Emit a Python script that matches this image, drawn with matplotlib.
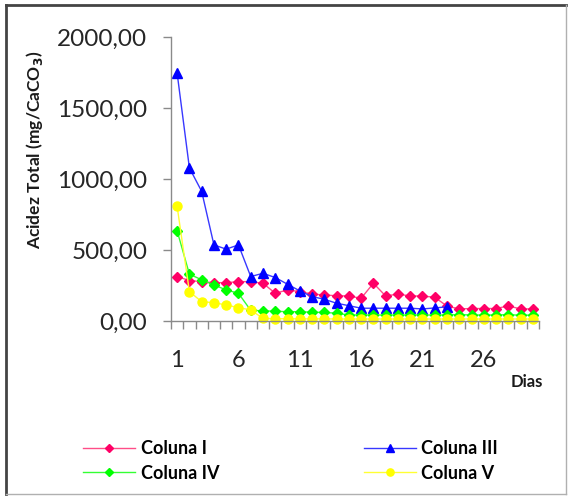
import matplotlib.pyplot as plt
from matplotlib.lines import Line2D

plt.rcParams['font.family'] = ['Lato', 'DejaVu Sans']

dias = list(range(1, 31))
coluna_i = [313, 285, 277, 270, 270, 277, 277, 266, 195, 219, 207, 190, 183, 178, 176,
            160, 266, 176, 190, 176, 176, 167, 105, 85, 88, 88, 88, 106, 85, 85]
coluna_iii = [1745, 1078, 913, 536, 506, 536, 313, 336, 306, 259, 212, 172, 153, 125, 108,
              90, 90, 90, 90, 90, 85, 92, 100]
coluna_iv = [635, 330, 290, 254, 219, 195, 75, 72, 68, 66, 65, 62, 60, 55, 42,
             42, 42, 42, 42, 42, 42, 42, 42, 45, 42, 42, 42, 45, 40, 42]
coluna_v = [807, 207, 136, 129, 113, 94, 78, 18, 16, 16, 15, 15, 15, 14, 14,
            14, 14, 14, 14, 14, 14, 14, 14, 14, 14, 14, 14, 14, 14, 14]

series = [
    ("Coluna I", coluna_i, "#FF0066", "#FF4D88", "D", 5.5),
    ("Coluna III", coluna_iii, "#0000FF", "#3838FF", "^", 7),
    ("Coluna IV", coluna_iv, "#00FF00", "#33FF33", "D", 5.5),
    ("Coluna V", coluna_v, "#FFFF00", "#FFFF33", "o", 6.5),
]

fig = plt.figure(figsize=(5.71, 4.97), dpi=100)
ax = fig.add_axes([171 / 571, 1 - 321 / 497, 368 / 571, 284 / 497])

handles = {}
for name, vals, mcol, lcol, mk, ms in series:
    x = dias[:len(vals)]
    ln, = ax.plot(x, vals, color=lcol, lw=1.0, marker=mk, markersize=ms,
                  markerfacecolor=mcol, markeredgecolor=mcol, label=name, clip_on=False)
    handles[name] = ln

ax.set_xlim(0.5, 30.5)
ax.set_ylim(0, 2000)
ax.set_yticks([0, 500, 1000, 1500, 2000])
ax.set_yticklabels(["0,00", "500,00", "1000,00", "1500,00", "2000,00"])
ax.set_xticks([1, 6, 11, 16, 21, 26])
ax.set_xticklabels(["1", "6", "11", "16", "21", "26"])
ax.set_xticks([d + 0.5 for d in range(0, 31)], minor=True)

for side in ["top", "right"]:
    ax.spines[side].set_visible(False)
for side in ["left", "bottom"]:
    ax.spines[side].set_color("#8a8a8a")
    ax.spines[side].set_linewidth(1.0)

ax.tick_params(axis="y", direction="out", length=6, width=1, color="#8a8a8a",
               labelsize=17.5, labelcolor="#262626", pad=11)
ax.tick_params(axis="x", which="major", length=0, labelsize=17, labelcolor="#262626", pad=21)
ax.tick_params(axis="x", which="minor", direction="out", length=6, width=1, color="#8a8a8a")

fig.text(527 / 571, 1 - 382 / 497, "Dias", fontsize=12, fontweight="bold",
         color="#1a1a1a", ha="center", va="center")
fig.text(35 / 571, 1 - 150 / 497, r"Acidez Total (mg/CaCO$_\mathbf{3}$)", fontsize=12.5,
         fontweight="bold", color="#1a1a1a", rotation=90, ha="center", va="center")

order = ["Coluna I", "Coluna IV", "Coluna III", "Coluna V"]
fig.legend([handles[n] for n in order], order, ncol=2, frameon=False,
           loc="center left", bbox_to_anchor=(83 / 571, 1 - 461 / 497),
           borderpad=0, borderaxespad=0, handlelength=2.9, handletextpad=0.3,
           columnspacing=8.0, labelspacing=0.39, prop={"size": 13, "weight": "bold"},
           markerscale=0.8)

# outer frame around the chart area
fig.add_artist(Line2D([6 / 571, 6 / 571], [1 - 494 / 497, 1 - 5 / 497], color="#444444", lw=2))
fig.add_artist(Line2D([6 / 571, 566 / 571], [1 - 5 / 497, 1 - 5 / 497], color="#444444", lw=2))
fig.add_artist(Line2D([566 / 571, 566 / 571], [1 - 494 / 497, 1 - 5 / 497], color="#b0b0b0", lw=1))
fig.add_artist(Line2D([6 / 571, 566 / 571], [1 - 494 / 497, 1 - 494 / 497], color="#b0b0b0", lw=1))

fig.savefig("out.png", dpi=100)
